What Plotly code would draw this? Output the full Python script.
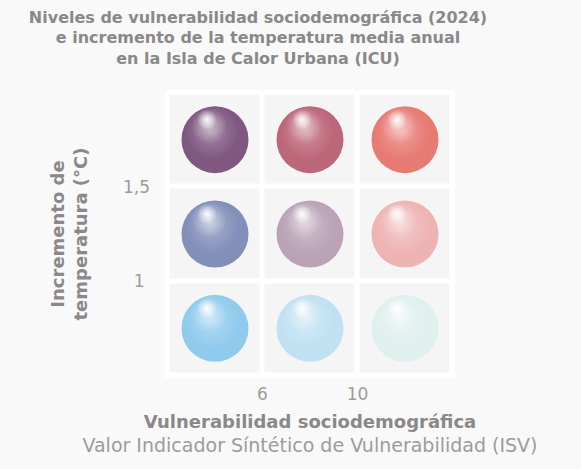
import plotly.graph_objects as go

# ---- data ----
isv_levels = ["Baja", "Media", "Alta"]          # columns (vulnerabilidad)
temp_levels = ["Bajo", "Medio", "Alto"]         # rows (incremento de temperatura)
x_tick_labels = ["6", "10"]
y_tick_labels = ["1\u00a0", "1,5"]
sphere_colors = [
    ["#90cbed", "#c0e1f2", "#dff0ee"],   # Bajo
    ["#828fb9", "#baa3b7", "#eeb4b4"],   # Medio
    ["#7f5780", "#bc6679", "#e87a74"],   # Alto
]

GREY = "#8a8888"
LIGHT = "#9c9c9c"
FONT = "DejaVu Sans"

n = len(isv_levels)
pad = 0.0263
xr = [-pad, n + pad]
yr = [-pad, n + pad]
W_PLOT, H_PLOT = 290, 288
ppx = W_PLOT / (xr[1] - xr[0])
ppy = H_PLOT / (yr[1] - yr[0])

xs, ys, cs = [], [], []
for j, row in enumerate(temp_levels):
    for i, col in enumerate(isv_levels):
        xs.append(i + 0.5)
        ys.append(j + 0.5)
        cs.append(sphere_colors[j][i])

fig = go.Figure()

# background cells
fig.add_trace(go.Heatmap(
    x=[i + 0.5 for i in range(n)], y=[j + 0.5 for j in range(n)],
    z=[[1] * n for _ in range(n)],
    colorscale=[[0, "#f5f5f5"], [1, "#f5f5f5"]], showscale=False,
    xgap=5, ygap=5, hoverinfo="skip",
))

SIZE = 67
fig.add_trace(go.Scatter(
    x=xs, y=ys, mode="markers",
    marker=dict(size=SIZE, color=cs, line=dict(width=0)),
    hoverinfo="skip", showlegend=False,
))

# highlight layers (dx, dy in px; dy positive = down), diameter, alpha
layers = [(-3, -7, 54, 0.28), (-6, -14, 36, 0.5), (-8, -20, 20, 0.95)]
for dx, dy, d, a in layers:
    fig.add_trace(go.Scatter(
        x=[x + dx / ppx for x in xs], y=[y - dy / ppy for y in ys], mode="markers",
        marker=dict(size=d, color="rgba(255,255,255,0)", line=dict(width=0),
                    gradient=dict(type="radial", color=f"rgba(255,255,255,{a})")),
        hoverinfo="skip", showlegend=False,
    ))

fig.update_layout(
    width=581, height=469,
    margin=dict(l=165, r=126, t=90, b=91, pad=0),
    paper_bgcolor="#f9f9f9", plot_bgcolor="white",
    showlegend=False,
    font=dict(family=FONT, color=GREY),
    title=dict(
        text="Niveles de vulnerabilidad sociodemográfica (2024)<br>"
             "e incremento de la temperatura media anual<br>"
             "en la Isla de Calor Urbana (ICU)",
        x=258 / 581, xanchor="center", xref="container",
        y=0.952, yanchor="top", yref="container",
        font=dict(family=FONT, size=16, color=GREY, weight=700),
    ),
    xaxis=dict(
        range=xr, showgrid=False, zeroline=False, showline=False,
        tickvals=[1, 2], ticktext=x_tick_labels, ticks="",
        tickfont=dict(size=17, color=LIGHT),
        ticklabelstandoff=4,
        title=dict(
            text="<b>Vulnerabilidad sociodemográfica</b><br>"
                 "<span style='font-size:19px;color:#9c9c9c'>Valor Indicador Síntético de Vulnerabilidad (ISV)</span>",
            font=dict(size=18, color=GREY), standoff=12,
        ),
        fixedrange=True,
    ),
    yaxis=dict(
        range=yr, showgrid=False, zeroline=False, showline=False,
        tickvals=[1, 2], ticktext=y_tick_labels, ticks="",
        tickfont=dict(size=17, color=LIGHT),
        ticklabelstandoff=14,
        title=dict(
            text="<b>Incremento de<br>temperatura (°C)</b>",
            font=dict(size=18, color=GREY), standoff=30,
        ),
        fixedrange=True,
    ),
)

fig.write_html("out.html")
